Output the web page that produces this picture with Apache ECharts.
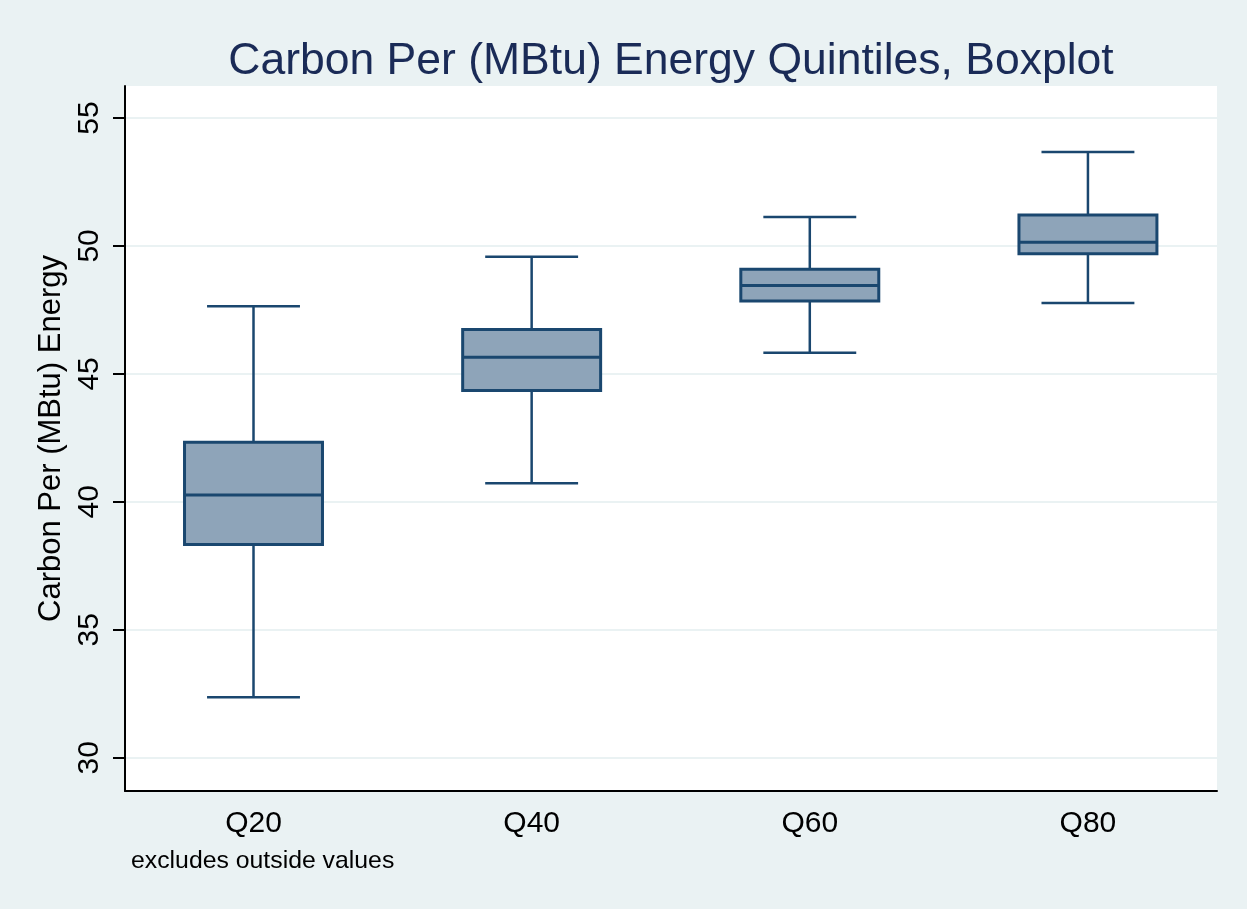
<!DOCTYPE html>
<html>
<head>
<meta charset="utf-8">
<title>Carbon Per (MBtu) Energy Quintiles, Boxplot</title>
<style>
  html, body { margin: 0; padding: 0; background: #eaf2f3; }
  #chart { width: 1247px; height: 909px; }
</style>
</head>
<body>
<div id="chart"></div>
<script src="https://cdn.jsdelivr.net/npm/echarts@6.0.0/dist/echarts.min.js"></script>
<script>
    // box statistics (whiskers exclude outside values)
    var categories = ['Q20', 'Q40', 'Q60', 'Q80'];
    var whiskerLow = [32.36, 40.73, 45.83, 47.77];
    var lowerQuartile = [38.33, 44.35, 47.85, 49.69];
    var medians = [40.27, 45.65, 48.45, 50.14];
    var upperQuartile = [42.33, 46.73, 49.09, 51.21];
    var whiskerHigh = [47.64, 49.58, 51.13, 53.67];
    var yTicks = [30, 35, 40, 45, 50, 55];

    var NAVY = '#1a476f';
    var FILL = '#8ea4b9';
    var FONT = "'Liberation Sans', Arial, sans-serif";
    var BOX_HALF = 0.248;  // half box width, in category units
    var CAP_HALF = 0.167;  // half whisker cap width

    var rows = [];
    for (var i = 0; i < categories.length; i++) {
        rows.push([i + 1, whiskerLow[i], lowerQuartile[i], medians[i], upperQuartile[i], whiskerHigh[i]]);
    }

    function renderBox(params, api) {
        var x = api.value(0);
        var yLo = api.coord([x, api.value(1)])[1];
        var yQ1 = api.coord([x, api.value(2)])[1];
        var yMd = api.coord([x, api.value(3)])[1];
        var yQ3 = api.coord([x, api.value(4)])[1];
        var yHi = api.coord([x, api.value(5)])[1];
        var xc = api.coord([x, 0])[0];
        var bl = api.coord([x - BOX_HALF, 0])[0];
        var br = api.coord([x + BOX_HALF, 0])[0];
        var cl = api.coord([x - CAP_HALF, 0])[0];
        var cr = api.coord([x + CAP_HALF, 0])[0];
        var whisker = { stroke: NAVY, lineWidth: 2.5 };
        return {
            type: 'group',
            children: [
                { type: 'line', shape: { x1: xc, y1: yQ3, x2: xc, y2: yHi }, style: whisker },
                { type: 'line', shape: { x1: xc, y1: yQ1, x2: xc, y2: yLo }, style: whisker },
                { type: 'line', shape: { x1: cl, y1: yHi, x2: cr, y2: yHi }, style: whisker },
                { type: 'line', shape: { x1: cl, y1: yLo, x2: cr, y2: yLo }, style: whisker },
                { type: 'rect', shape: { x: bl, y: yQ3, width: br - bl, height: yQ1 - yQ3 },
                  style: { fill: FILL, stroke: NAVY, lineWidth: 3 } },
                { type: 'line', shape: { x1: bl, y1: yMd, x2: br, y2: yMd }, style: { stroke: NAVY, lineWidth: 3 } }
            ]
        };
    }

    var myChart = echarts.init(document.getElementById('chart'));
    var option = {
        backgroundColor: '#eaf2f3',
        animation: false,
        title: [
            {
                text: 'Carbon Per (MBtu) Energy Quintiles, Boxplot',
                left: 666,
                textAlign: 'center',
                top: 34,
                textStyle: { fontFamily: FONT, fontSize: 44.5, fontWeight: 'normal', color: '#1a2b57' }
            },
            {
                text: 'excludes outside values',
                left: 126,
                top: 844,
                textStyle: { fontFamily: FONT, fontSize: 24.8, fontWeight: 'normal', color: '#000' }
            }
        ],
        grid: {
            left: 125, right: 30, top: 86, bottom: 118,
            show: true, backgroundColor: '#fff', borderWidth: 0
        },
        xAxis: {
            type: 'value',
            min: 0.538,
            max: 4.464,
            axisLine: { show: true, lineStyle: { color: '#000', width: 2 } },
            axisTick: { show: false },
            splitLine: { show: false },
            axisLabel: {
                customValues: [1, 2, 3, 4],
                formatter: function (v) { return categories[Math.round(v) - 1]; },
                fontFamily: FONT, fontSize: 30, color: '#000', margin: 18
            }
        },
        yAxis: {
            type: 'value',
            min: 28.7,
            max: 56.25,
            name: 'Carbon Per (MBtu) Energy',
            nameLocation: 'middle',
            nameRotate: 90,
            nameGap: 53,
            nameTextStyle: { fontFamily: FONT, fontSize: 31, color: '#000' },
            axisLine: { show: true, lineStyle: { color: '#000', width: 2 } },
            axisTick: { show: true, length: 12, customValues: yTicks, lineStyle: { color: '#000', width: 2 } },
            splitLine: { show: true, lineStyle: { color: '#eaf2f3', width: 2 } },
            axisLabel: {
                customValues: yTicks,
                rotate: 90,
                fontFamily: FONT, fontSize: 30, color: '#000', margin: 20
            }
        },
        series: [
            {
                type: 'custom',
                renderItem: renderBox,
                encode: { x: 0, y: [1, 2, 3, 4, 5] },
                data: rows
            }
        ]
    };
    myChart.setOption(option);
</script>
</body>
</html>
